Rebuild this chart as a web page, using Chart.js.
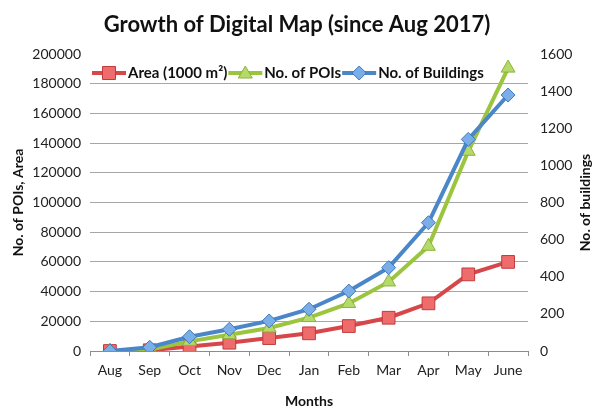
<!DOCTYPE html>
<html>
<head>
<meta charset="utf-8">
<script src="https://cdn.jsdelivr.net/npm/chart.js@4/dist/chart.umd.min.js"></script>
<style>
  html, body { margin: 0; padding: 0; background: #fff; }
  #wrap { width: 594px; height: 406px; position: relative; }
</style>
</head>
<body>
<div id="wrap"><canvas id="growthChart"></canvas></div>
<script>
// データ
const months = ["Aug", "Sep", "Oct", "Nov", "Dec", "Jan", "Feb", "Mar", "Apr", "May", "June"];
const areaValues = [0, 500, 3000, 5600, 8700, 11900, 16800, 22400, 32100, 51600, 60000];
const poiValues = [0, 1000, 6500, 11000, 15500, 22500, 32000, 46500, 70500, 134500, 190500];
const buildingValues = [0, 20, 77, 117, 162, 225, 323, 449, 691, 1140, 1379];
const leftTicks = { min: 0, max: 200000, step: 20000 };
const rightTicks = { min: 0, max: 1600, step: 200 };

const FONT = "Lato, 'Open Sans', sans-serif";

const series = [
  { label: "Area (1000 m²)", data: areaValues, axis: "y", line: "#d7474a", fill: "#ee6c6c", border: "#c23a3c", style: "rect", radius: 9, order: 3 },
  { label: "No. of POIs", data: poiValues, axis: "y", line: "#9bc53f", fill: "#b5da6a", border: "#8cb33a", style: "triangle", radius: 8, order: 2 },
  { label: "No. of Buildings", data: buildingValues, axis: "y1", line: "#4a86c8", fill: "#7aaee8", border: "#3f77b8", style: "rectRot", radius: 7, order: 1 }
];

// 凡例：線＋マーカーをグラフ内上部に描く
function drawIcon(g, x, y, s) {
  g.strokeStyle = s.line; g.lineWidth = 4;
  g.beginPath(); g.moveTo(x, y); g.lineTo(x + 34, y); g.stroke();
  g.fillStyle = s.fill; g.strokeStyle = s.border; g.lineWidth = 1;
  g.beginPath();
  const cx = x + 17;
  if (s.style === "rect") g.rect(cx - 6.5, y - 6.5, 13, 13);
  else if (s.style === "triangle") { g.moveTo(cx, y - 7); g.lineTo(cx + 7, y + 5); g.lineTo(cx - 7, y + 5); g.closePath(); }
  else { g.moveTo(cx, y - 7); g.lineTo(cx + 7, y); g.lineTo(cx, y + 7); g.lineTo(cx - 7, y); g.closePath(); }
  g.fill(); g.stroke();
}

const insideLegend = {
  id: "insideLegend",
  afterDraw(chart) {
    const { ctx, chartArea } = chart;
    let x = chartArea.left + 2;
    const y = 73;
    ctx.save();
    ctx.font = "bold 15px " + FONT;
    ctx.textBaseline = "middle";
    ctx.textAlign = "left";
    series.forEach(s => {
      drawIcon(ctx, x, y, s);
      x += 36;
      ctx.fillStyle = "#111";
      ctx.fillText(s.label, x, y);
      x += ctx.measureText(s.label).width + 1;
    });
    ctx.restore();
  }
};

// 右軸タイトル（下から上へ読む向き）
const rightTitle = {
  id: "rightTitle",
  afterDraw(chart) {
    const { ctx, chartArea } = chart;
    ctx.save();
    ctx.translate(585, (chartArea.top + chartArea.bottom) / 2);
    ctx.rotate(-Math.PI / 2);
    ctx.font = "bold 14px " + FONT;
    ctx.fillStyle = "#111";
    ctx.textAlign = "center";
    ctx.textBaseline = "middle";
    ctx.fillText("No. of buildings", 0, 0);
    ctx.restore();
  }
};

const plain = v => String(v);

new Chart(document.getElementById("growthChart").getContext("2d"), {
  type: "line",
  data: {
    labels: months,
    datasets: series.map(s => ({
      label: s.label,
      data: s.data,
      yAxisID: s.axis,
      borderColor: s.line,
      borderWidth: 4,
      backgroundColor: s.fill,
      pointStyle: s.style,
      pointRadius: s.radius,
      pointBackgroundColor: s.fill,
      pointBorderColor: s.border,
      pointBorderWidth: 1,
      tension: 0,
      order: s.order
    }))
  },
  options: {
    responsive: true,
    maintainAspectRatio: false,
    animation: false,
    layout: { padding: 0 },
    plugins: {
      title: {
        display: true,
        text: "Growth of Digital Map (since Aug 2017)",
        color: "#111",
        font: { family: FONT, size: 22, weight: "bold" },
        padding: { top: 12, bottom: 15.6 }
      },
      legend: { display: false },
      tooltip: { enabled: false }
    },
    scales: {
      x: {
        type: "category",
        offset: true,
        grid: { offset: true, drawOnChartArea: false, drawTicks: true, tickLength: 5, color: "#8c8c8c" },
        border: { color: "#8c8c8c" },
        ticks: { color: "#222", font: { family: FONT, size: 14 }, padding: 6, maxRotation: 0 },
        title: { display: true, text: "Months", color: "#111", font: { family: FONT, size: 14, weight: "bold" }, padding: { top: 0, bottom: -4 } },
        afterFit(scale) { scale.height = 55; }
      },
      y: {
        position: "left",
        min: leftTicks.min,
        max: leftTicks.max,
        ticks: { stepSize: leftTicks.step, color: "#222", font: { family: FONT, size: 14 }, padding: 9, callback: plain },
        grid: {
          drawTicks: false,
          color: ctx => (ctx.tick && ctx.tick.value === leftTicks.max ? "rgba(0,0,0,0)" : "#a6a6a6")
        },
        border: { display: false },
        title: { display: true, text: "No. of POIs, Area", color: "#111", font: { family: FONT, size: 14, weight: "bold" }, padding: { top: 10, bottom: 0 } },
        afterFit(scale) { scale.width = 90; }
      },
      y1: {
        position: "right",
        min: rightTicks.min,
        max: rightTicks.max,
        ticks: { stepSize: rightTicks.step, color: "#222", font: { family: FONT, size: 14 }, padding: 12, callback: plain },
        grid: { display: false, drawTicks: false },
        border: { display: false },
        afterFit(scale) { scale.width = 66; }
      }
    }
  },
  plugins: [insideLegend, rightTitle]
});
</script>
</body>
</html>
